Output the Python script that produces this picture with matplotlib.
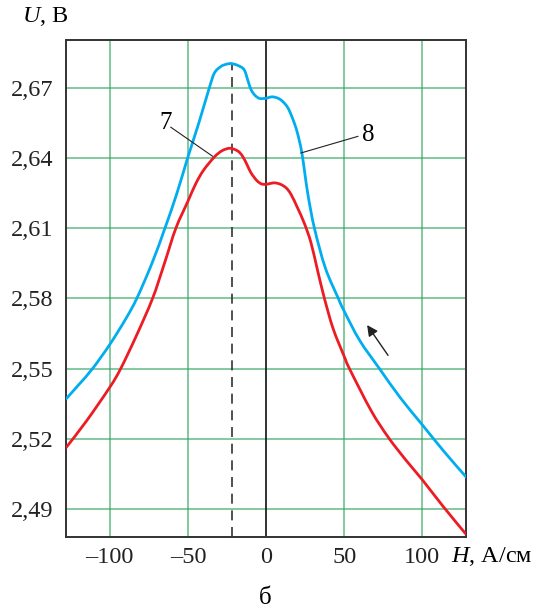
import numpy as np
import matplotlib
matplotlib.use('Agg')
import matplotlib.pyplot as plt
from matplotlib.path import Path
from matplotlib.patches import PathPatch
from matplotlib.ticker import FuncFormatter

plt.rcParams['font.family'] = ['Liberation Serif', 'DejaVu Serif']
plt.rcParams['mathtext.fontset'] = 'custom'
plt.rcParams['mathtext.rm'] = 'Liberation Serif'
plt.rcParams['mathtext.it'] = 'Liberation Serif:italic'

# curve 8 (blue)
h8 = [-128, -120, -111, -100, -90, -82.7, -73, -64.7, -57, -50.2, -43, -36.3,
      -33, -28.8, -25, -22, -18, -14, -11.5, -9.6, -7, -4, 0, 4, 8, 11, 14,
      17, 20, 23, 26.7, 31, 38, 46.3, 50, 60, 72.6, 86, 100, 114, 128]
u8 = [2.537, 2.543, 2.550, 2.5603, 2.571, 2.580, 2.595, 2.610, 2.625, 2.640,
      2.655, 2.670, 2.6764, 2.6792, 2.6802, 2.6804, 2.6796, 2.6778, 2.673,
      2.6693, 2.6668, 2.6655, 2.6656, 2.6662, 2.6655, 2.664, 2.6615, 2.657,
      2.651, 2.642, 2.625, 2.610, 2.593, 2.580, 2.5746, 2.562, 2.550, 2.5375,
      2.526, 2.5145, 2.5037]

# curve 7 (red)
h7 = [-128, -115, -100, -93, -83, -72.6, -65, -57.7, -50, -45, -40, -33,
      -28, -22.9, -18, -15, -12, -9.6, -6, -3, 0, 3, 6, 9.6, 13, 16, 20, 24.6,
      28.8, 33, 37.4, 43, 50, 53.4, 67.3, 78.4, 90, 100, 113.2, 128]
u7 = [2.5162, 2.5275, 2.542, 2.550, 2.564, 2.580, 2.595, 2.610, 2.6215,
      2.629, 2.6348, 2.6405, 2.6432, 2.6442, 2.643, 2.6408, 2.637, 2.6337,
      2.6305, 2.629, 2.6288, 2.6292, 2.6294, 2.6287, 2.6272, 2.6245, 2.619,
      2.612, 2.6038, 2.592, 2.580, 2.567, 2.5553, 2.550, 2.532, 2.5205,
      2.5105, 2.5025, 2.4912, 2.4792]

yticks = [2.49, 2.52, 2.55, 2.58, 2.61, 2.64, 2.67]
xticks = [-100, -50, 0, 50, 100]
h_peak = -22


def smooth_path(xs, ys):
    # Catmull-Rom through the read points, drawn as cubic Bezier segments
    p = np.column_stack([xs, ys]).astype(float)
    verts = [p[0]]
    codes = [Path.MOVETO]
    n = len(p)
    for i in range(n - 1):
        p0 = p[i - 1] if i > 0 else p[i]
        p3 = p[i + 2] if i + 2 < n else p[i + 1]
        c1 = p[i] + (p[i + 1] - p0) / 6
        c2 = p[i + 1] - (p3 - p[i]) / 6
        verts += [c1, c2, p[i + 1]]
        codes += [Path.CURVE4] * 3
    return Path(verts, codes)


green = '#2ea35f'
fig = plt.figure(figsize=(5.36, 6.14), dpi=100)
ax = fig.add_axes([66 / 536, 1 - 537 / 614, 400 / 536, 497 / 614])

ax.set_xlim(-128, 128)
ax.set_ylim(2.478, 2.6905)

for y in yticks:
    ax.axhline(y, color=green, lw=1.1, alpha=0.75, zorder=1)
for x in xticks:
    if x == 0:
        ax.axvline(0, color='#222222', lw=1.3, zorder=2)
    else:
        ax.axvline(x, color=green, lw=1.1, alpha=0.75, zorder=1)

ax.plot([h_peak, h_peak], [2.478, 2.6804], color='#333333', lw=1.2,
        dashes=(6, 4), zorder=2)

ax.add_patch(PathPatch(smooth_path(h8, u8), fill=False, edgecolor='#00aeef',
                       lw=2.0, zorder=3, capstyle='round', joinstyle='round'))
ax.add_patch(PathPatch(smooth_path(h7, u7), fill=False, edgecolor='#ed1c24',
                       lw=2.0, zorder=3, capstyle='round', joinstyle='round'))

ax.set_xticks(xticks)
ax.set_yticks(yticks)
ax.xaxis.set_major_formatter(FuncFormatter(
    lambda v, p: ('\u2013' + str(int(-v))) if v < 0 else str(int(v))))
ax.yaxis.set_major_formatter(FuncFormatter(
    lambda v, p: f'{v:.2f}'.replace('.', ',')))
ax.tick_params(length=0, labelsize=17.5, colors='#222222')
ax.tick_params(axis='y', pad=9)
ax.tick_params(axis='x', pad=7)
for s in ax.spines.values():
    s.set_color('#333333')
    s.set_linewidth(1.4)

# curve labels with leader lines
ax.plot([-60.9, -34.2], [2.6532, 2.6408], color='#222222', lw=0.8, zorder=4)
ax.text(-64.5, 2.6548, '7', fontsize=18, ha='center', va='center')
ax.plot([58.8, 22.4], [2.6493, 2.6422], color='#222222', lw=0.8, zorder=4)
ax.text(65.5, 2.6497, '8', fontsize=18, ha='center', va='center')

# direction arrow
ax.annotate('', xy=(63.7, 2.5696), xytext=(79.1, 2.5547),
            arrowprops=dict(arrowstyle='-|>', color='#222222', lw=1.0,
                            mutation_scale=16))

fig.text(22 / 536, 1 - 17 / 614, r'$\it{U}$, В', fontsize=17.5, ha='left', va='center')
fig.text(451 / 536, 1 - 557 / 614, r'$\it{H}$, А/см', fontsize=17.5, ha='left', va='center')
fig.text(265 / 536, 1 - 598 / 614, 'б', fontsize=18, ha='center', va='center')

fig.savefig('out.png', dpi=100)
